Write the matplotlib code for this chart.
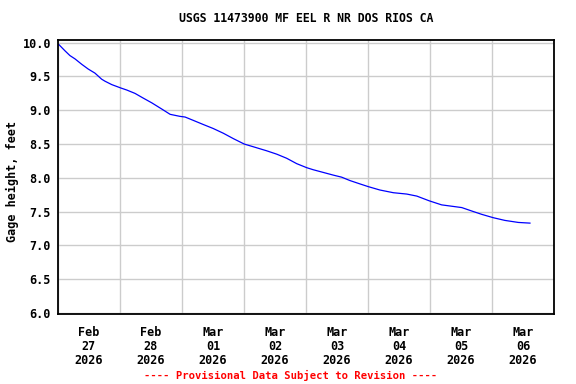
import datetime as dt
import numpy as np
import matplotlib
matplotlib.use("Agg")
import matplotlib.pyplot as plt
import matplotlib.dates as mdates
from matplotlib.ticker import FormatStrFormatter, MultipleLocator

# gage height readings, hours after 2026-02-27 00:00
hours = [0.0, 0.4, 2.7, 4.6, 6.6, 9.2, 11.7, 14.3, 16.9, 18.2, 20.8, 24.3, 26.6,
         29.8, 33.0, 36.3, 40.1, 43.4, 47.2, 49.2, 52.4, 56.2, 60.1, 64.0,
         67.9, 72.1, 75.6, 80.8, 84.7, 88.5, 92.4, 96.3, 98.8, 102.7, 106.6,
         109.8, 113.0, 116.9, 120.1, 124.6, 129.8, 135.0, 138.9, 143.7, 148.5,
         152.4, 156.3, 160.1, 164.0, 168.5, 173.0, 178.2, 182.7]
gage_ft = [9.98, 9.97, 9.88, 9.81, 9.76, 9.68, 9.61, 9.55, 9.46, 9.43, 9.38, 9.33,
           9.30, 9.25, 9.18, 9.11, 9.02, 8.94, 8.91, 8.90, 8.85, 8.79, 8.73, 8.66,
           8.58, 8.50, 8.46, 8.40, 8.35, 8.29, 8.21, 8.15, 8.12, 8.08, 8.04,
           8.01, 7.96, 7.91, 7.87, 7.82, 7.78, 7.76, 7.73, 7.66, 7.60,
           7.58, 7.56, 7.51, 7.46, 7.41, 7.37, 7.34, 7.33]

title = "USGS 11473900 MF EEL R NR DOS RIOS CA"
ylabel = "Gage height, feet"
footer = "---- Provisional Data Subject to Revision ----"

start = dt.datetime(2026, 2, 27)
times = [start + dt.timedelta(hours=h) for h in hours]

mono = "DejaVu Sans Mono"

fig = plt.figure(figsize=(5.76, 3.84), dpi=100)
ax = fig.add_axes([58 / 576, 1 - 314 / 384, 496 / 576, 274 / 384])

ax.plot(times, gage_ft, color="#0000ff", linewidth=0.9)

ax.set_xlim(start, start + dt.timedelta(days=8))
ax.set_ylim(5.985, 10.04)

ax.yaxis.set_major_locator(MultipleLocator(0.5))
ax.yaxis.set_major_formatter(FormatStrFormatter("%.1f"))

# grid on day boundaries, labels at noon
ax.xaxis.set_major_locator(mdates.DayLocator())
ax.xaxis.set_major_formatter(plt.NullFormatter())
ax.xaxis.set_minor_locator(mdates.HourLocator(byhour=[12]))
ax.xaxis.set_minor_formatter(mdates.DateFormatter("%b\n%d\n%Y"))

ax.grid(True, which="major", color="#cccccc", linewidth=1.0)
ax.set_axisbelow(True)
ax.tick_params(which="both", length=0)
ax.tick_params(axis="y", pad=5)
ax.tick_params(axis="x", which="minor", pad=9)
for lbl in ax.get_yticklabels() + ax.get_xticklabels(minor=True):
    lbl.set_fontfamily(mono)
    lbl.set_fontweight("bold")
    lbl.set_fontsize(8.5)
for lbl in ax.get_xticklabels(minor=True):
    lbl.set_linespacing(1.05)

for sp in ax.spines.values():
    sp.set_linewidth(1.3)
    sp.set_color("black")

fig.text(12 / 576, 1 - 181 / 384, ylabel, family=mono, weight="bold",
         fontsize=8.5, rotation=90, ha="center", va="center")
fig.text(306 / 576, 1 - 19 / 384, title, family=mono, weight="bold",
         fontsize=8.3, ha="center", va="center")
fig.text(291 / 576, 1 - 375 / 384, footer, family=mono, weight="bold",
         fontsize=7.6, color="red", ha="center", va="center")

fig.savefig("out.png", dpi=100)
